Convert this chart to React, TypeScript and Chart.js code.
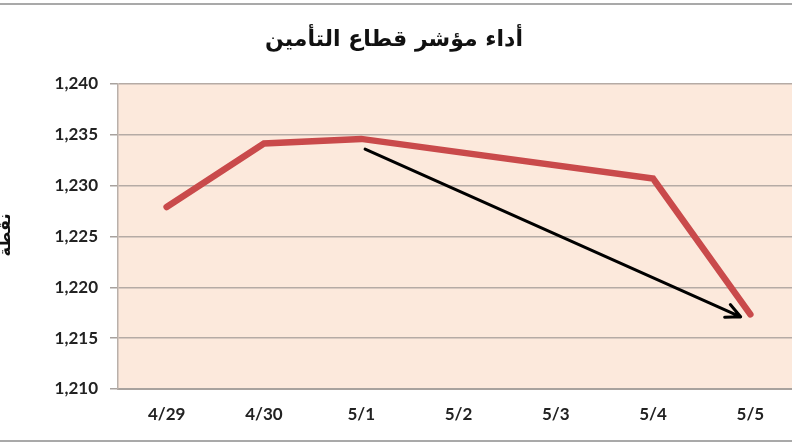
import React, { useEffect, useRef } from "react";
import { Chart, registerables } from "chart.js";

Chart.register(...registerables);

const titleText = "أداء مؤشر قطاع التأمين";
const yAxisLabel = "نقطة";
const categories = ["4/29", "4/30", "5/1", "5/2", "5/3", "5/4", "5/5"];
const indexValues: (number | null)[] = [1227.9, 1234.15, 1234.6, null, null, 1230.7, 1217.35];
const yTicks = [1210, 1215, 1220, 1225, 1230, 1235, 1240];
const arrowStart = [2.04, 1233.6];
const arrowEnd = [5.9, 1217.1];

export default function App() {
  const ref = useRef<HTMLCanvasElement>(null);
  useEffect(() => {
    document.body.style.margin = "0";
    document.body.style.overflow = "hidden";
    document.documentElement.style.overflow = "hidden";
    const canvas = ref.current!;
    const deco = {
      id: "deco",
      beforeDraw(chart: any) {
        const { ctx, chartArea } = chart;
        ctx.save();
        ctx.fillStyle = "#ffffff";
        ctx.fillRect(0, 0, chart.width, chart.height);
        ctx.fillStyle = "#FCE9DC";
        ctx.fillRect(chartArea.left, chartArea.top, chartArea.right - chartArea.left, chartArea.bottom - chartArea.top);
        // frame lines
        ctx.strokeStyle = "#A9A9A9";
        ctx.lineWidth = 2;
        ctx.beginPath();
        ctx.moveTo(0, 4);
        ctx.lineTo(chart.width, 4);
        ctx.moveTo(0, 441);
        ctx.lineTo(chart.width, 441);
        ctx.stroke();
        // title
        ctx.fillStyle = "#111";
        ctx.font = "bold 22px 'DejaVu Sans'";
        ctx.textAlign = "center";
        ctx.textBaseline = "middle";
        ctx.fillText(titleText, 394, 40);
        // y axis label
        ctx.translate(6, 235);
        ctx.rotate(-Math.PI / 2);
        ctx.font = "bold 16px 'DejaVu Sans'";
        ctx.fillText(yAxisLabel, 0, 0);
        ctx.restore();
      },
      afterDatasetsDraw(chart: any) {
        const { ctx, scales } = chart;
        const x1 = scales.x.getPixelForValue(arrowStart[0]);
        const y1 = scales.y.getPixelForValue(arrowStart[1]);
        const x2 = scales.x.getPixelForValue(arrowEnd[0]);
        const y2 = scales.y.getPixelForValue(arrowEnd[1]);
        ctx.save();
        ctx.strokeStyle = "#000";
        ctx.lineWidth = 3;
        ctx.lineCap = "round";
        ctx.beginPath();
        ctx.moveTo(x1, y1);
        ctx.lineTo(x2, y2);
        const ang = Math.atan2(y2 - y1, x2 - x1);
        const len = 16;
        ctx.moveTo(x2, y2);
        ctx.lineTo(x2 - len * Math.cos(ang - 0.45), y2 - len * Math.sin(ang - 0.45));
        ctx.moveTo(x2, y2);
        ctx.lineTo(x2 - len * Math.cos(ang + 0.45), y2 - len * Math.sin(ang + 0.45));
        ctx.stroke();
        ctx.restore();
      },
    };
    const chart = new Chart(canvas, {
      type: "line",
      data: {
        labels: categories,
        datasets: [
          {
            data: indexValues,
            borderColor: "#C94A4B",
            borderWidth: 6.5,
            pointRadius: 0,
            spanGaps: true,
            borderCapStyle: "round",
            borderJoinStyle: "miter",
            tension: 0,
          },
        ],
      },
      options: {
        animation: false,
        responsive: false,
        layout: { padding: { left: 0, right: 1, top: 84, bottom: 0 } },
        plugins: { legend: { display: false }, title: { display: false }, tooltip: { enabled: false } },
        scales: {
          x: {
            offset: true,
            afterFit: (s: any) => { s.height = 57; },
            grid: { display: false, drawTicks: false },
            border: { display: true, color: "#A8A29E", width: 2 },
            ticks: { padding: 15, color: "#222", font: { family: "Lato", weight: "bold", size: 17 } },
          },
          y: {
            min: 1210,
            max: 1240,
            afterFit: (s: any) => { s.width = 118; },
            afterBuildTicks: (s: any) => { s.ticks = yTicks.map((v) => ({ value: v })); },
            grid: { color: "#B5ABA5", lineWidth: 1.5, tickLength: 8, tickColor: "#A8A29E" },
            border: { display: true, color: "#B9B0AA", width: 1.5 },
            ticks: {
              padding: 12,
              color: "#222",
              font: { family: "Lato", weight: "bold", size: 17 },
              callback: (v: any) => Number(v).toLocaleString("en-US"),
            },
          },
        },
      },
      plugins: [deco],
    });
    return () => chart.destroy();
  }, []);
  return (
    <div style={{ width: 792, height: 446, overflow: "hidden" }}>
      <canvas ref={ref} width={800} height={446} style={{ display: "block" }} />
    </div>
  );
}
